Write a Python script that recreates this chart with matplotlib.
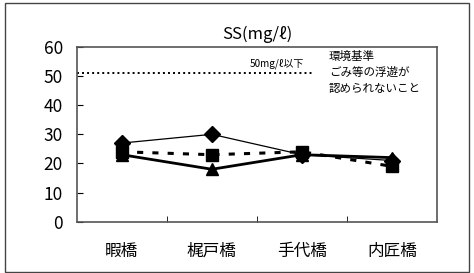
import matplotlib
matplotlib.use('Agg')
import matplotlib.pyplot as plt
from matplotlib.patches import Rectangle

plt.rcParams['font.family'] = ['Noto Sans CJK JP', 'DejaVu Sans']

# data
sites = ['暇橋', '梶戸橋', '手代橋', '内匠橋']
ss_diamond = [27, 30, 23, 21]
ss_square = [24, 23, 24, 19]
ss_triangle = [23, 18, 23, 22]
standard = 51
yticks = [0, 10, 20, 30, 40, 50, 60]

fig = plt.figure(figsize=(4.74, 2.73), dpi=100)
ax = fig.add_axes([0.162, 0.188, 0.760, 0.640])

x = list(range(len(sites)))
ax.plot(x, ss_diamond, color='black', lw=0.9, marker='D', ms=8, zorder=3)
ax.plot(x, ss_square, color='black', lw=2.2, ls=(0, (2, 3)), marker='s', ms=9, zorder=4)
ax.plot(x, ss_triangle, color='black', lw=2.0, marker='^', ms=9, zorder=5)

# environmental standard line
ax.plot([-0.5, 2.12], [standard, standard], color='black', lw=1.4, ls=(0, (1, 1.6)))
ax.text(1.72, 52.5, '50mg/ℓ以下', fontsize=7.2, ha='center', va='bottom')
ax.text(2.3, 59, '環境基準\nごみ等の浮遊が\n認められないこと', fontsize=8.3,
        ha='left', va='top', linespacing=1.3)

ax.set_xlim(-0.5, 3.5)
ax.set_ylim(0, 60)
ax.set_yticks(yticks)
ax.set_xticks(x)
ax.set_xticklabels(sites, fontsize=12)
ax.set_xticks([0.5, 1.5, 2.5], minor=True)
ax.tick_params(axis='x', which='major', length=0, pad=15)
ax.tick_params(axis='x', which='minor', direction='in', length=4)
ax.tick_params(axis='y', direction='in', length=4, labelsize=12.5, pad=10)
for s in ax.spines.values():
    s.set_color('#555555')
    s.set_linewidth(1.2)

ax.set_title('SS(mg/ℓ)', fontsize=12, pad=6)

# outer frame
fig.patches.append(Rectangle((0.011, 0.005), 0.978, 0.985, transform=fig.transFigure,
                             fill=False, edgecolor='#444444', lw=1.0))

fig.savefig('out.png', dpi=100)
